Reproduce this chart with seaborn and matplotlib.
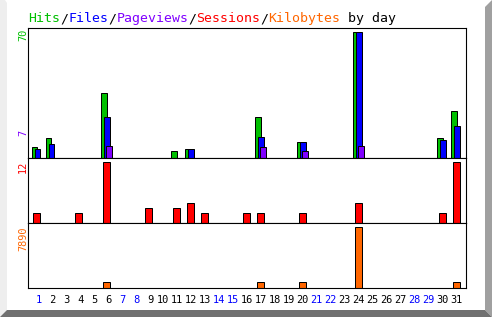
import numpy as np
import matplotlib
matplotlib.use("Agg")
import matplotlib.pyplot as plt
import seaborn as sns
from matplotlib.patches import Polygon

# ---------------- data ----------------
days = list(range(1, 32))
hits = [6, 11, 0, 0, 0, 36, 0, 0, 0, 0, 4, 5, 0, 0, 0, 0, 23, 0, 0, 9,
        0, 0, 0, 70, 0, 0, 0, 0, 0, 11, 26]
files = [5, 8, 0, 0, 0, 23, 0, 0, 0, 0, 0, 5, 0, 0, 0, 0, 12, 0, 0, 9,
         0, 0, 0, 70, 0, 0, 0, 0, 0, 10, 18]
pageviews = [0, 0, 0, 0, 0, 7, 0, 0, 0, 0, 0, 0, 0, 0, 0, 0, 6, 0, 0, 4,
             0, 0, 0, 7, 0, 0, 0, 0, 0, 0, 0]
sessions = [2, 0, 0, 2, 0, 12, 0, 0, 3, 0, 3, 4, 2, 0, 0, 2, 2, 0, 0, 2,
            0, 0, 0, 4, 0, 0, 0, 0, 0, 2, 12]
kilobytes = [0, 0, 0, 0, 0, 770, 0, 0, 0, 0, 0, 0, 0, 0, 0, 0, 770, 0, 0, 770,
             0, 0, 0, 7890, 0, 0, 0, 0, 0, 0, 770]
weekend_days = [1, 7, 8, 14, 15, 21, 22, 28, 29]
title_parts = [("Hits", "green"), ("/", "black"), ("Files", "blue"), ("/", "black"),
               ("Pageviews", "purple"), ("/", "black"), ("Sessions", "red"),
               ("/", "black"), ("Kilobytes", "orange"), (" by day", "black")]
max_labels = [("70", "green", 28.5), ("7", "purple", 129.5),
              ("12", "red", 161.0), ("7890", "orange", 226.5)]

COL = {"green": "#00c000", "blue": "#0000ff", "purple": "#8000ff",
       "red": "#ff0000", "orange": "#ff6600", "black": "#000000"}

# ---------------- layout (pixels) ----------------
W, H = 492, 317
PX = 14.0                     # pixels per day
LW = 0.72                     # 1 px in points
MONO = "DejaVu Sans Mono"

fig = plt.figure(figsize=(W / 100, H / 100), dpi=100)
fig.patch.set_facecolor("white")

def fx(x):
    return x / W

def fy(y):
    return 1 - y / H

left_px, right_px = 28.3, 465.7
panels = [(28.3, 158.3), (158.3, 223.3), (223.3, 288.3)]
axes = []
for top, bot in panels:
    ax = fig.add_axes([fx(left_px), fy(bot), (right_px - left_px) / W, (bot - top) / H])
    axes.append(ax)
ax1, ax2, ax3 = axes

xmin = 1 - 8.2 / PX
xmax = xmin + (right_px - left_px) / PX


def bars(ax, values, color, offset_px, width_px):
    x = np.array(days, dtype=float) + offset_px / PX
    n0 = len(ax.patches)
    sns.barplot(x=x, y=values, native_scale=True, width=width_px / PX,
                color=COL[color], saturation=1, edgecolor="black",
                linewidth=LW, errorbar=None, ax=ax, zorder=2)
    for p in ax.patches[n0:]:
        if p.get_height() == 0:
            p.set_visible(False)


bars(ax1, hits, "green", -2.0, 6.0)
bars(ax1, files, "blue", 1.0, 6.0)
bars(ax1, pageviews, "purple", 3.0, 6.0)
bars(ax2, sessions, "red", 0.0, 7.3)
bars(ax3, kilobytes, "orange", 0.0, 7.3)

ax1.set_ylim(0, 70 * 130 / 126.3)
ax2.set_ylim(0, 12 * 65 / 61.0)
ax3.set_ylim(0, 7890 * 65 / 61.3)

for ax in axes:
    ax.set_xlim(xmin, xmax)
    ax.set_facecolor("white")
    ax.set_yticks([])
    ax.set_ylabel("")
    ax.set_xlabel("")
    for s in ax.spines.values():
        s.set_linewidth(LW * 1.1)
        s.set_color("black")
    ax.tick_params(axis="both", length=0)

ax1.set_xticks([])
ax2.set_xticks([])
ax3.set_xticks(days)
ax3.set_xticklabels([f"{d:2d}" for d in days], fontfamily=MONO, fontsize=7.4,
                    va="baseline")
ax3.tick_params(axis="x", pad=10.6)
for lab, d in zip(ax3.get_xticklabels(), days):
    lab.set_color(COL["blue"] if d in weekend_days else COL["black"])

# title, multi-coloured
fs_title = 9.57
adv = 0.6021 * fs_title * 100 / 72
pos = 0
for text, c in title_parts:
    fig.text(fx(28.3 + pos * adv), fy(22.0), text, color=COL[c], fontsize=fs_title,
             fontfamily=MONO, ha="left", va="baseline")
    pos += len(text)

# rotated maximum labels
for text, c, ytop in max_labels:
    fig.text(fx(26.0), fy(ytop), text, color=COL[c], fontsize=7.4, fontfamily=MONO,
             rotation=90, rotation_mode="anchor", ha="right", va="baseline")

# 3-D frame border
frame = [
    ([(0, 0), (5, 0), (7, 3), (7, 310), (0, 317)], "#eeeeee"),
    ([(485, 7), (492, 0), (492, 317), (485, 310)], "#a0a0a0"),
    ([(0, 317), (7, 310), (485, 310), (492, 317)], "#707070"),
]
for pts, c in frame:
    fig.patches.append(Polygon([(fx(x), fy(y)) for x, y in pts], closed=True,
                               transform=fig.transFigure, facecolor=c,
                               edgecolor="none", zorder=0))

fig.savefig("out.png", dpi=100, facecolor="white")
